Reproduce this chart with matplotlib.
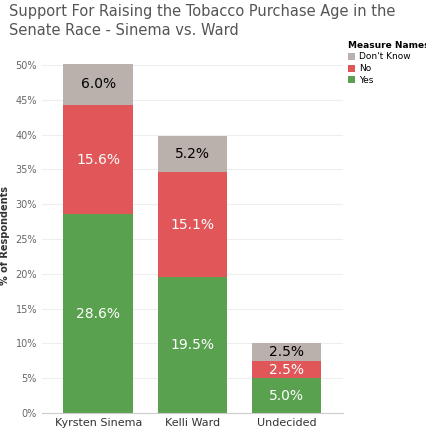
import matplotlib.pyplot as plt
import numpy as np

# data
candidates = ['Kyrsten Sinema', 'Kelli Ward', 'Undecided']
yes = [28.6, 19.5, 5.0]
no = [15.6, 15.1, 2.5]
dont_know = [6.0, 5.2, 2.5]

green = '#59a14f'
red = '#e15759'
gray = '#bab0ac'

fig = plt.figure(figsize=(4.27, 4.33), dpi=100)
ax = fig.add_axes([0.098, 0.046, 0.705, 0.82])

x = np.arange(len(candidates))
w = 0.74
b1 = ax.bar(x, yes, w, color=green, label='Yes')
b2 = ax.bar(x, no, w, bottom=yes, color=red, label='No')
bottom2 = np.array(yes) + np.array(no)
b3 = ax.bar(x, dont_know, w, bottom=bottom2, color=gray, label="Don't Know")

for i in range(len(x)):
    ax.text(x[i], yes[i] / 2, f'{yes[i]:.1f}%', ha='center', va='center', color='white', fontsize=10)
    ax.text(x[i], yes[i] + no[i] / 2, f'{no[i]:.1f}%', ha='center', va='center', color='white', fontsize=10)
    ax.text(x[i], bottom2[i] + dont_know[i] / 2, f'{dont_know[i]:.1f}%', ha='center', va='center', color='black', fontsize=10)

ax.set_xlim(-0.6, 2.6)
ax.set_ylim(0, 51)
ax.set_yticks(range(0, 51, 5))
ax.set_yticklabels([f'{v}%' for v in range(0, 51, 5)], fontsize=7, color='#666666')
ax.set_xticks(x)
ax.set_xticklabels(candidates, fontsize=8, color='#333333')
ax.tick_params(length=0)
ax.grid(axis='y', color='#eeeeee', linewidth=0.8)
ax.set_axisbelow(True)
for s in ['top', 'right', 'left']:
    ax.spines[s].set_visible(False)
ax.spines['bottom'].set_color('#cccccc')
ax.set_ylabel('% of Respondents', fontsize=7, fontweight='bold', color='#333333')

fig.text(0.02, 0.99, 'Support For Raising the Tobacco Purchase Age in the\nSenate Race - Sinema vs. Ward',
         ha='left', va='top', fontsize=10.5, color='#555555', linespacing=1.3)

handles = [b3, b2, b1]
leg = fig.legend(handles, ["Don't Know", 'No', 'Yes'], loc='upper left', bbox_to_anchor=(0.81, 0.91),
                 fontsize=6.5, frameon=False, title='Measure Names', title_fontsize=6.5,
                 handlelength=0.8, handleheight=0.8, handletextpad=0.5, labelspacing=0.3,
                 alignment='left', borderaxespad=0, borderpad=0.2)
leg.get_title().set_fontweight('bold')

fig.savefig('out.png', dpi=100)
